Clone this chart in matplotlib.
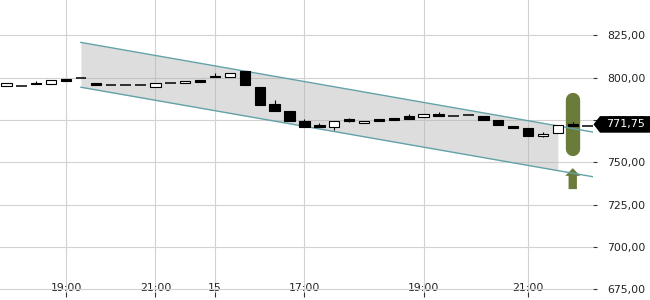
import numpy as np
import matplotlib
matplotlib.use("Agg")
import matplotlib.pyplot as plt
from matplotlib.patches import Polygon, FancyArrow
from matplotlib.ticker import FuncFormatter

# ---- data ----
opens  = [795.2, 795.2, 797.0, 796.2, 799.1, 799.9, 797.0, 795.6, 795.6, 795.9,
          794.4, 796.8, 796.8, 798.7, 801.2, 800.3, 804.0, 794.6, 784.5, 780.4,
          774.5, 772.1, 771.1, 775.7, 773.1, 775.7, 776.2, 777.5, 776.7, 778.6,
          777.5, 778.1, 777.5, 775.1, 771.5, 770.4, 765.5, 767.2, 772.9, 771.75]
highs  = [796.8, 795.2, 798.1, 798.5, 799.5, 799.9, 797.0, 795.6, 795.6, 795.9,
          797.0, 796.8, 797.9, 798.9, 802.6, 802.7, 804.0, 794.6, 786.9, 780.4,
          775.5, 773.1, 774.5, 776.4, 774.5, 775.7, 776.2, 778.5, 778.6, 779.8,
          777.5, 778.1, 777.5, 775.1, 771.5, 770.4, 768.0, 772.0, 773.9, 771.75]
lows   = [795.2, 795.2, 796.2, 796.2, 798.3, 799.9, 796.0, 795.6, 795.6, 795.9,
          794.4, 796.8, 796.8, 797.7, 800.3, 800.3, 795.9, 784.1, 780.4, 774.5,
          771.1, 771.1, 769.2, 774.1, 773.1, 774.7, 775.3, 775.9, 776.7, 777.3,
          777.5, 778.1, 775.3, 772.0, 770.5, 765.8, 764.9, 767.2, 771.4, 771.75]
closes = [796.8, 795.2, 796.2, 798.5, 798.3, 799.9, 796.0, 795.6, 795.6, 795.9,
          797.0, 796.8, 797.9, 797.7, 800.3, 802.7, 795.9, 784.1, 780.4, 774.5,
          771.1, 771.1, 774.5, 774.5, 774.5, 774.7, 775.3, 775.9, 778.6, 777.3,
          777.5, 778.1, 775.3, 772.0, 770.5, 765.8, 766.8, 772.0, 771.4, 771.75]

tick_idx = [4, 10, 14, 20, 28, 35]
tick_labels = ["19:00", "21:00", "15", "17:00", "19:00", "21:00"]
y_ticks = [675, 700, 725, 750, 775, 800, 825]

chan_x = [5, 39.43]
chan_upper = [820.9, 767.8]
chan_lower = [794.4, 741.4]
shade_x = [5, 37]
shade_upper = [820.9, 771.5]
shade_lower = [794.4, 745.2]

last_price = 771.75
signal_idx = 38
signal_bar = [758.0, 786.9]
arrow_base, arrow_tip = 734.2, 746.6

# ---- figure ----
W, H = 650, 300
fig = plt.figure(figsize=(W / 100, H / 100), dpi=100)
ax_right_px, ax_bottom_px = 593, 292
ax = fig.add_axes([0, (H - ax_bottom_px) / H, ax_right_px / W, ax_bottom_px / H])
ax.set_xlim(-0.43, 39.36)
ax.set_ylim(673.4, 845.97)
for s in ax.spines.values():
    s.set_visible(False)
ax.set_axisbelow(True)
ax.grid(True, color="#d2d2d2", lw=0.8)

fs = 7.8
ax.yaxis.tick_right()
ax.set_yticks(y_ticks)
ax.yaxis.set_major_formatter(FuncFormatter(lambda v, p: f"{v:.2f}".replace(".", ",")))
ax.tick_params(axis="y", length=3, width=0.8, color="#333333", pad=7,
               labelsize=fs, labelcolor="#222222")
ax.set_xticks(tick_idx)
ax.set_xticklabels(tick_labels)
ax.tick_params(axis="x", direction="out", length=3.6, width=0.8, color="#333333",
               pad=-10.3, labelsize=fs, labelcolor="#222222")

# channel shading and lines
ax.fill_between(shade_x, shade_upper, shade_lower, color="#b0b0b0", alpha=0.42,
                lw=0, zorder=1)
teal = "#62a2a9"
ax.plot(chan_x, chan_upper, color=teal, lw=1.0, zorder=3)
ax.plot(chan_x, chan_lower, color=teal, lw=1.0, zorder=3)

# signal bar and arrow
green = "#6a7b3a"
ax.plot([signal_idx, signal_idx], signal_bar, color=green, lw=10.3,
        solid_capstyle="round", zorder=2)
ax.add_patch(FancyArrow(signal_idx, arrow_base, 0, arrow_tip - arrow_base,
                        width=0.56, head_width=1.0, head_length=4.55,
                        length_includes_head=True, color=green, lw=0, zorder=2))

# candles
x = np.arange(len(opens))
o = np.array(opens); c = np.array(closes); h = np.array(highs); l = np.array(lows)
ax.vlines(x, l, h, color="black", lw=0.8, zorder=4)
body = c != o
cols = np.where(c[body] < o[body], "black", "white")
ax.bar(x[body], (c - o)[body], bottom=o[body], width=0.7, color=cols,
       edgecolor="black", linewidth=0.8, zorder=5)
doji = ~body
ax.hlines(o[doji], x[doji] - 0.35, x[doji] + 0.35, color="black", lw=1.1, zorder=5)

# price tag
tr = ax.get_yaxis_transform()
px = 1.0 / ax_right_px
dy = 8.3 / 1.693
yc = last_price + 0.7
tag = Polygon([(1 + 0.5 * px, yc), (1 + 7 * px, yc + dy),
               (1 + 57 * px, yc + dy), (1 + 57 * px, yc - dy),
               (1 + 7 * px, yc - dy)], closed=True, transform=tr,
              facecolor="black", edgecolor="none", clip_on=False, zorder=10)
ax.add_patch(tag)
ax.text(1 + 33 * px, yc, f"{last_price:.2f}".replace(".", ","),
        transform=tr, color="white", fontsize=8, ha="center", va="center",
        clip_on=False, zorder=11)

fig.savefig("out.png", dpi=100)
